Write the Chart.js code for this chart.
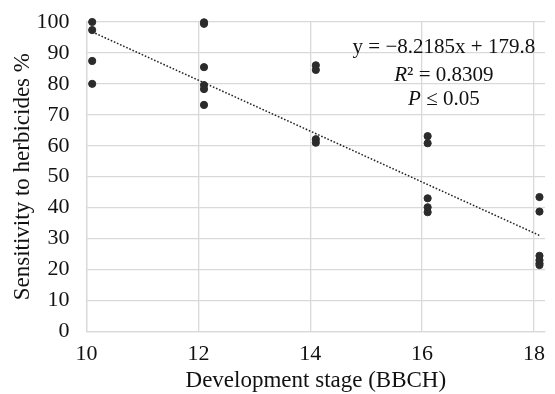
<!DOCTYPE html>
<html>
<head>
<meta charset="utf-8">
<script src="https://cdn.jsdelivr.net/npm/chart.js@4.4.0/dist/chart.umd.min.js"></script>
<style>
  html, body { margin: 0; padding: 0; background: #fff; }
  #wrap { position: relative; width: 555px; height: 394px; }
</style>
</head>
<body>
<div id="wrap"><canvas id="chart" width="555" height="394"></canvas></div>
<script>
// development stage (x) and sensitivity (%)
const stageX = [10.1, 10.1, 10.1, 10.1,
                12.1, 12.1, 12.1, 12.1, 12.1, 12.1,
                14.1, 14.1, 14.1, 14.1,
                16.1, 16.1, 16.1, 16.1, 16.1,
                18.1, 18.1, 18.1, 18.1, 18.1, 18.1];
const sensitivity = [100, 97.4, 87.4, 80,
                     99.9, 99.4, 85.4, 79.6, 78.3, 73.2,
                     86, 84.5, 62.1, 61,
                     63.1, 60.8, 43, 40.1, 38.5,
                     43.4, 38.7, 24.4, 23, 22, 21.4];
// trend line end points (Excel linear trendline)
const trendX = [10.1, 18.1];
const trendY = [96.8, 31.0];
const xTicks = [10, 12, 14, 16, 18];
const eqLines = ['y = \u22128.2185x + 179.8', 'R\u00b2 = 0.8309', 'P \u2264 0.05'];

const serif = '"Liberation Serif", "DejaVu Serif", serif';
const gridCol = '#d9d9d9';

const points = stageX.map((x, i) => ({ x: x, y: sensitivity[i] }));
const trend = trendX.map((x, i) => ({ x: x, y: trendY[i] }));

// draws the regression equation box in the upper right
const equationText = {
  id: 'equationText',
  afterDraw(chart) {
    const ctx = chart.ctx;
    const xs = chart.scales.x;
    const ys = chart.scales.y;
    const cx = xs.getPixelForValue(16.39);
    const fs = '21px ' + serif;
    ctx.save();
    ctx.fillStyle = '#111';
    ctx.textBaseline = 'middle';
    ctx.textAlign = 'center';
    ctx.font = fs;
    ctx.fillText(eqLines[0], cx, ys.getPixelForValue(91.9));
    // R² and P lines with italic first letter
    const rows = [
      { it: eqLines[1].slice(0, 1), rest: eqLines[1].slice(1), y: 82.8 },
      { it: eqLines[2].slice(0, 1), rest: eqLines[2].slice(1), y: 74.8 }
    ];
    rows.forEach(r => {
      ctx.font = 'italic ' + fs;
      const w1 = ctx.measureText(r.it).width;
      ctx.font = fs;
      const w2 = ctx.measureText(r.rest).width;
      const left = cx - (w1 + w2) / 2;
      ctx.textAlign = 'left';
      ctx.font = 'italic ' + fs;
      ctx.fillText(r.it, left, ys.getPixelForValue(r.y));
      ctx.font = fs;
      ctx.fillText(r.rest, left + w1, ys.getPixelForValue(r.y));
    });
    ctx.restore();
  }
};

new Chart(document.getElementById('chart'), {
  type: 'scatter',
  data: {
    datasets: [
      {
        label: 'Sensitivity',
        data: points,
        backgroundColor: '#2b2b2b',
        borderColor: '#2b2b2b',
        pointRadius: 3.6,
        pointHoverRadius: 3.6,
        clip: false,
        order: 1
      },
      {
        label: 'Trend',
        type: 'line',
        data: trend,
        borderColor: '#222',
        borderWidth: 1.5,
        borderDash: [1.6, 1.8],
        pointRadius: 0,
        fill: false,
        clip: false,
        order: 2
      }
    ]
  },
  options: {
    responsive: false,
    animation: false,
    layout: { padding: { top: 22, right: 0, left: 9, bottom: 0 } },
    plugins: {
      legend: { display: false },
      tooltip: { enabled: false }
    },
    scales: {
      x: {
        type: 'linear',
        min: 10,
        max: 18.2,
        afterBuildTicks: axis => { axis.ticks = xTicks.map(v => ({ value: v })); },
        grid: { color: gridCol, lineWidth: 1.3, drawTicks: false },
        border: { color: gridCol, width: 1.3 },
        ticks: {
          color: '#111',
          font: { family: serif, size: 22 },
          padding: 10,
          maxRotation: 0
        },
        title: {
          display: true,
          text: 'Development stage (BBCH)',
          color: '#111',
          font: { family: serif, size: 23, lineHeight: 1.1 },
          padding: { top: -9, bottom: 0 }
        }
      },
      y: {
        min: 0,
        max: 100,
        afterFit: axis => { axis.paddingTop = 0; },
        ticks: {
          stepSize: 10,
          color: '#111',
          font: { family: serif, size: 22 },
          padding: 17
        },
        grid: { color: gridCol, lineWidth: 1.3, drawTicks: false },
        border: { color: gridCol, width: 1.3 },
        title: {
          display: true,
          text: 'Sensitivity to herbicides %',
          color: '#111',
          font: { family: serif, size: 23 },
          padding: { top: 0, bottom: -17 }
        }
      }
    }
  },
  plugins: [equationText]
});
</script>
</body>
</html>
